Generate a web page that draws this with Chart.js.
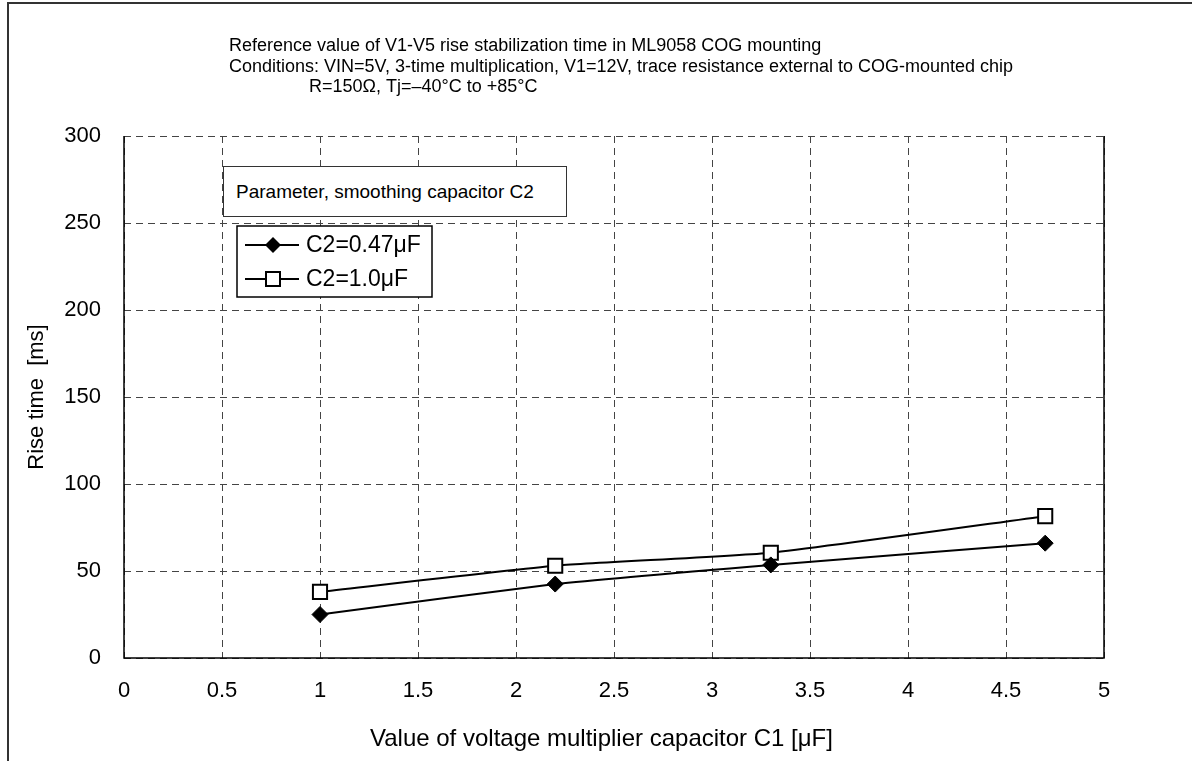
<!DOCTYPE html>
<html>
<head>
<meta charset="utf-8">
<script src="https://cdn.jsdelivr.net/npm/chart.js@4.4.1/dist/chart.umd.min.js"></script>
<style>
  html, body { margin: 0; padding: 0; background: #fff; }
  #wrap { position: relative; width: 1192px; height: 761px; overflow: hidden; font-family: "Liberation Sans", Arial, sans-serif; }
  #frame { position: absolute; left: 7px; top: 2px; width: 1200px; height: 800px; border-top: 2px solid #333; border-left: 2px solid #333; }
  #title { position: absolute; left: 229px; top: 35px; font-size: 18px; line-height: 20.5px; color: #000; white-space: nowrap; }
  #title .indent { padding-left: 80px; }
  #note { position: absolute; left: 223px; top: 166px; width: 344px; height: 51px; box-sizing: border-box; border: 1px solid #333; background: #fff;
          font-size: 19px; line-height: 49px; padding-left: 12px; white-space: nowrap; }
  #xTitle { position: absolute; left: 370px; top: 724px; font-size: 24px; line-height: 28px; color: #000; white-space: nowrap; }
  canvas { position: absolute; left: 0; top: 0; }
</style>
</head>
<body>
<div id="wrap">
  <div id="frame"></div>
  <canvas id="riseChart" width="1192" height="761"></canvas>
  <div id="title">
    <div>Reference value of V1-V5 rise stabilization time in ML9058 COG mounting</div>
    <div>Conditions: VIN=5V, 3-time multiplication, V1=12V, trace resistance external to COG-mounted chip</div>
    <div class="indent">R=150Ω, Tj=–40°C to +85°C</div>
  </div>
  <div id="note">Parameter, smoothing capacitor C2</div>
  <div id="xTitle">Value of voltage multiplier capacitor C1 [μF]</div>
</div>
<script>
// C1 values (uF) on the x axis
const c1Values = [1, 2.2, 3.3, 4.7];
// rise time (ms)
const riseC2_047 = [25, 42.5, 53.5, 66];
const riseC2_10 = [38, 53, 60.5, 81.5];
const seriesLabels = ["C2=0.47μF", "C2=1.0μF"];

const FONT = "'Liberation Sans', Arial, sans-serif";
const toPoints = (ys) => c1Values.map((x, i) => ({ x: x, y: ys[i] }));

// legend box drawn inside the plot, like the original
const legendBox = {
  id: "legendBox",
  afterDraw(chart) {
    const ctx = chart.ctx;
    const bx = 237, by = 226, bw = 195, bh = 71;
    ctx.save();
    ctx.fillStyle = "#fff";
    ctx.fillRect(bx, by, bw, bh);
    ctx.strokeStyle = "#000";
    ctx.lineWidth = 1.5;
    ctx.strokeRect(bx, by, bw, bh);
    chart.data.datasets.forEach((ds, i) => {
      const cy = by + 19 + i * 34;
      const mx = bx + 36;
      ctx.strokeStyle = "#000";
      ctx.lineWidth = 2;
      ctx.beginPath();
      ctx.moveTo(bx + 8, cy);
      ctx.lineTo(bx + 62, cy);
      ctx.stroke();
      ctx.beginPath();
      if (ds.pointStyle === "rectRot") {
        const r = 8;
        ctx.moveTo(mx - r, cy); ctx.lineTo(mx, cy - r); ctx.lineTo(mx + r, cy); ctx.lineTo(mx, cy + r);
        ctx.closePath();
        ctx.fillStyle = "#000";
        ctx.fill();
      } else {
        const s = 7;
        ctx.rect(mx - s, cy - s, 2 * s, 2 * s);
        ctx.fillStyle = "#fff";
        ctx.fill();
        ctx.lineWidth = 2;
        ctx.stroke();
      }
      ctx.fillStyle = "#000";
      ctx.font = "23px " + FONT;
      ctx.textBaseline = "middle";
      ctx.fillText(ds.label, bx + 69, cy + 1);
    });
    ctx.restore();
  }
};

// solid frame round the plot area (left, right, bottom)
const plotFrame = {
  id: "plotFrame",
  beforeDatasetsDraw(chart) {
    const { left, right, bottom, top } = chart.chartArea;
    const ctx = chart.ctx;
    ctx.save();
    ctx.strokeStyle = "#000";
    ctx.lineWidth = 1.5;
    ctx.beginPath();
    ctx.moveTo(left, top);
    ctx.lineTo(left, bottom);
    ctx.lineTo(right, bottom);
    ctx.lineTo(right, top);
    ctx.stroke();
    ctx.restore();
  }
};

new Chart(document.getElementById("riseChart"), {
  type: "line",
  data: {
    datasets: [
      {
        label: seriesLabels[0],
        data: toPoints(riseC2_047),
        borderColor: "#000",
        borderWidth: 2,
        backgroundColor: "#000",
        pointStyle: "rectRot",
        pointRadius: 8,
        pointBorderWidth: 1,
        pointBackgroundColor: "#000",
        tension: 0.15
      },
      {
        label: seriesLabels[1],
        data: toPoints(riseC2_10),
        borderColor: "#000",
        borderWidth: 2,
        backgroundColor: "#fff",
        pointStyle: "rect",
        pointRadius: 10,
        pointBorderWidth: 2,
        pointBackgroundColor: "#fff",
        tension: 0.15
      }
    ]
  },
  options: {
    responsive: false,
    animation: false,
    layout: { padding: { left: 0, top: 136, right: 88, bottom: 0 } },
    plugins: {
      legend: { display: false },
      tooltip: { enabled: false }
    },
    scales: {
      x: {
        type: "linear",
        min: 0,
        max: 5,
        afterFit: (scale) => { scale.height = 103; },
        ticks: {
          stepSize: 0.5,
          color: "#000",
          padding: 20,
          font: { size: 22, family: FONT },
          callback: (v) => String(v)
        },
        grid: { color: "#444", lineWidth: 1, drawTicks: false },
        border: { display: false, dash: [7, 5] }
      },
      y: {
        min: 0,
        max: 300,
        afterFit: (scale) => { scale.width = 124; },
        ticks: { stepSize: 50, color: "#000", padding: 23, font: { size: 22, family: FONT } },
        grid: { color: "#444", lineWidth: 1, drawTicks: false },
        border: { display: false, dash: [7, 5] },
        title: {
          display: true,
          text: "Rise time  [ms]",
          color: "#000",
          padding: { top: 24, bottom: 0 },
          font: { size: 22, family: FONT }
        }
      }
    }
  },
  plugins: [plotFrame, legendBox]
});
</script>
</body>
</html>
